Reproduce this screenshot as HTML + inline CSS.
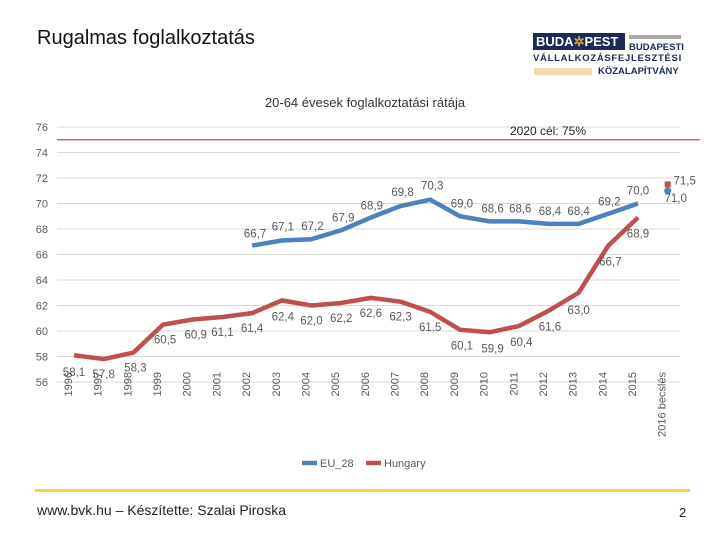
<!DOCTYPE html>
<html><head><meta charset="utf-8"><style>
body{margin:0;width:720px;height:540px;background:#fff;font-family:"Liberation Sans",sans-serif;overflow:hidden;position:relative}
</style></head><body>
<div style="position:absolute;left:37px;top:27px;font-size:20px;color:#111">Rugalmas foglalkoztatás</div>
<div style="position:absolute;left:533px;top:33px;width:150px;height:50px">
 <div style="position:absolute;left:0;top:0;width:89px;height:17px;background:#1c2a5a;color:#fff;font-weight:bold;font-size:13px;line-height:17px;padding-left:3px">BUDA<span style="color:#c9a24a">✲</span>PEST</div>
 <div style="position:absolute;left:96px;top:2px;width:52px;height:4px;background:#a8a8a8"></div>
 <div style="position:absolute;left:96px;top:9px;font-size:9.5px;font-weight:bold;color:#1c2a5a">BUDAPESTI</div>
 <div style="position:absolute;left:0;top:20px;font-size:9.5px;font-weight:bold;color:#1c2a5a;letter-spacing:0.7px">VÁLLALKOZÁSFEJLESZTÉSI</div>
 <div style="position:absolute;left:1px;top:35px;width:58px;height:7px;background:#f4dcae"></div>
 <div style="position:absolute;left:65px;top:33px;font-size:9.5px;font-weight:bold;color:#1c2a5a">KÖZALAPÍTVÁNY</div>
</div>
<svg id="chart" width="720" height="540" style="position:absolute;left:0;top:0" font-family="Liberation Sans, sans-serif"></svg>
<div style="position:absolute;left:35px;top:489px;width:655px;height:3px;background:#f0d444"></div>
<div style="position:absolute;left:37px;top:502px;font-size:14px;color:#222">www.bvk.hu – Készítette: Szalai Piroska</div>
<div style="position:absolute;left:679px;top:505px;font-size:13px;color:#222">2</div>
<script>
const categories=["1996","1997","1998","1999","2000","2001","2002","2003","2004","2005","2006","2007","2008","2009","2010","2011","2012","2013","2014","2015","2016 becslés"];
const euValues=[null,null,null,null,null,null,66.7,67.1,67.2,67.9,68.9,69.8,70.3,69.0,68.6,68.6,68.4,68.4,69.2,70.0,71.0];
const huValues=[58.1,57.8,58.3,60.5,60.9,61.1,61.4,62.4,62.0,62.2,62.6,62.3,61.5,60.1,59.9,60.4,61.6,63.0,66.7,68.9,71.5];
const yTicks=[56,58,60,62,64,66,68,70,72,74,76];
const target=75;
const euLabelDx=[0,0,0,0,0,0,3,1,1,2,1,2,2,2,3,1,1,0,1,0,-3];
const euLabelDy=[0,0,0,0,0,0,-12,-14,-13,-13,-12,-14,-14,-13,-13,-13,-13,-13,-12,-13,7];
const huLabelDx=[0,0,2,2,3,0,0,1,0,0,0,0,0,2,3,2,1,0,2,0,6];
const huLabelDy=[17,15,15,15,15,15,15,16,15,15,15,15,15,16,16,16,16,17,16,16,-4];
const NS="http://www.w3.org/2000/svg";
const svg=document.getElementById('chart');
const X=i=>74+i*(638-74)/19;
const Y=v=>382-(v-56)*12.75;
function mk(t,a,txt){const e=document.createElementNS(NS,t);for(const k in a)e.setAttribute(k,a[k]);if(txt!=null)e.textContent=txt;svg.appendChild(e);return e;}
mk('text',{x:365,y:107,'text-anchor':'middle','font-size':13,fill:'#333'},'20-64 évesek foglalkoztatási rátája');
yTicks.forEach(v=>{
 const g=mk('line',{x1:57,x2:680,y1:Y(v),y2:Y(v),stroke:'#d9d9d9','stroke-width':1});
 
 const t=mk('text',{x:48,y:Y(v)+4,'text-anchor':'end','font-size':11,fill:'#595959'},String(v));
 
});
const tl=mk('line',{x1:57,x2:700,y1:Y(target),y2:Y(target),stroke:'#c0504d','stroke-width':1.2});

const tt=mk('text',{x:548,y:Y(target)-5,'text-anchor':'middle','font-size':12,fill:'#222'},'2020 cél: 75%');

categories.forEach((c,i)=>{
 const t=mk('text',{transform:`translate(${X(i)-2},372) rotate(-90)`,'text-anchor':'end','font-size':11,fill:'#595959'},c);
 
});
function series(vals,color,name,dxs,dys){
 const pts=[];vals.forEach((v,i)=>{if(v!=null&&i<20)pts.push(X(i)+','+Y(v));});
 const p=mk('polyline',{points:pts.join(' '),fill:'none',stroke:color,'stroke-width':4.5,'stroke-linejoin':'round'});
 
 const v=vals[20];
 const d=mk(name==='hungary'?'rect':'circle',name==='hungary'?{x:X(20)-3,y:Y(v)-3,width:6,height:6,fill:color}:{cx:X(20),cy:Y(v),r:3.5,fill:color});
 
 vals.forEach((v,i)=>{if(v==null)return;
  const t=mk('text',{x:X(i)+dxs[i]+(i===20?11:0),y:Y(v)+dys[i]+4,'text-anchor':'middle','font-size':11.5,fill:'#595959'},v.toFixed(1).replace('.',','));
  
 });
}
series(euValues,'#4f81bd','eu28',euLabelDx,euLabelDy);
series(huValues,'#c0504d','hungary',huLabelDx,huLabelDy);
[[302,'#4f81bd','EU_28','legend-eu28'],[366,'#c0504d','Hungary','legend-hungary']].forEach(([x,c,l,n])=>{
 const r=mk('line',{x1:x,x2:x+15,y1:463,y2:463,stroke:c,'stroke-width':4.5});
 
 const t=mk('text',{x:x+18,y:467,'font-size':11,fill:'#595959'},l);
 
});
</script>
</body></html>
